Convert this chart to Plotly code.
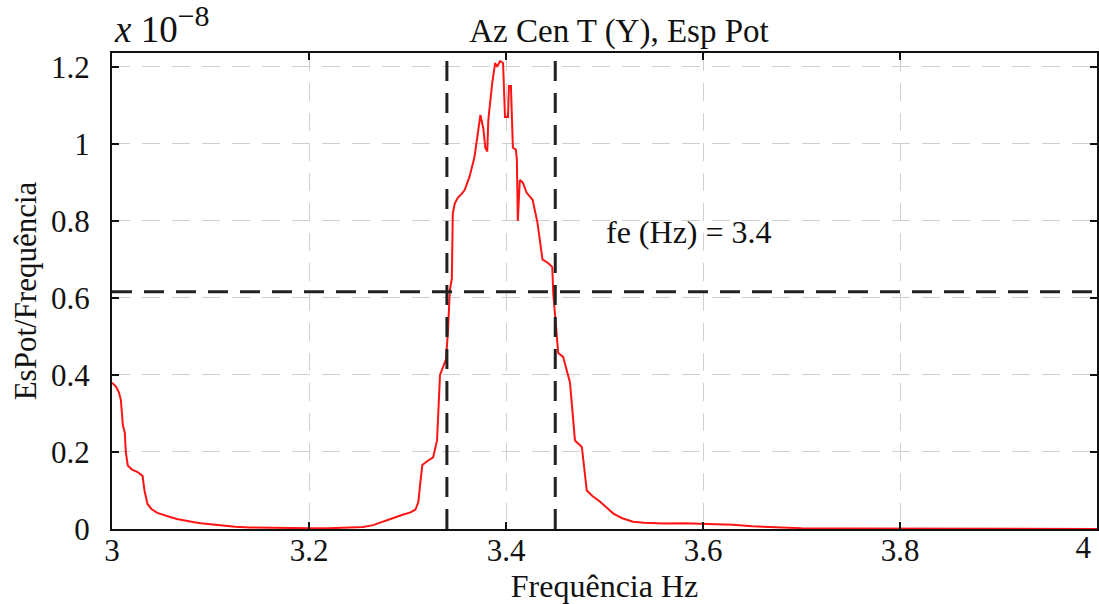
import plotly.graph_objects as go

# Power spectrum (values in units of 1e-8)
freq = [3.000, 3.004, 3.007, 3.009, 3.011, 3.013, 3.014, 3.016, 3.020, 3.026,
        3.031, 3.033, 3.036, 3.040, 3.046, 3.052, 3.059, 3.066, 3.074, 3.082,
        3.090, 3.100, 3.110, 3.125, 3.140, 3.160, 3.180, 3.200, 3.220, 3.240,
        3.255, 3.265, 3.275, 3.285, 3.295, 3.303, 3.308, 3.311, 3.313, 3.315,
        3.320, 3.326, 3.330, 3.333, 3.336, 3.339, 3.341, 3.343, 3.345, 3.346,
        3.348, 3.351, 3.355, 3.358, 3.363, 3.368, 3.371, 3.374, 3.377, 3.379,
        3.381, 3.382, 3.384, 3.386, 3.389, 3.391, 3.392, 3.394, 3.397, 3.398,
        3.399, 3.402, 3.403, 3.405, 3.407, 3.410, 3.411, 3.412, 3.414, 3.417,
        3.421, 3.427, 3.432, 3.437, 3.443, 3.447, 3.448, 3.450, 3.453, 3.458,
        3.465, 3.470, 3.477, 3.482, 3.488, 3.495, 3.502, 3.509, 3.518, 3.529,
        3.540, 3.560, 3.580, 3.600, 3.615, 3.630, 3.650, 3.665, 3.680, 3.700,
        3.750, 3.800, 3.900, 4.000]
espot = [0.380, 0.370, 0.355, 0.335, 0.270, 0.250, 0.200, 0.165, 0.155, 0.148,
         0.138, 0.100, 0.065, 0.052, 0.042, 0.036, 0.031, 0.026, 0.021, 0.018,
         0.015, 0.012, 0.009, 0.006, 0.004, 0.003, 0.002, 0.002, 0.002, 0.003,
         0.005, 0.010, 0.018, 0.028, 0.037, 0.043, 0.050, 0.070, 0.120, 0.166,
         0.176, 0.186, 0.230, 0.400, 0.420, 0.440, 0.510, 0.620, 0.650, 0.820,
         0.845, 0.860, 0.870, 0.880, 0.915, 0.966, 1.020, 1.075, 1.040, 0.990,
         0.980, 1.060, 1.110, 1.158, 1.210, 1.200, 1.205, 1.215, 1.210, 1.150,
         1.070, 1.070, 1.150, 1.150, 0.990, 0.985, 0.960, 0.800, 0.906, 0.900,
         0.873, 0.855, 0.795, 0.700, 0.690, 0.680, 0.610, 0.550, 0.457, 0.447,
         0.380, 0.230, 0.213, 0.100, 0.085, 0.072, 0.055, 0.040, 0.028, 0.019,
         0.016, 0.014, 0.015, 0.013, 0.013, 0.011, 0.007, 0.005, 0.003, 0.002,
         0.001, 0.001, 0.000, 0.000]

# Half-power bandwidth markers
band_freqs = [3.34, 3.45]
half_power = 0.616
fe_label = "fe (Hz) = 3.4"
fe_pos = [3.586, 0.771]

x_tickvals = [3.0, 3.2, 3.4, 3.6, 3.8, 4.0]
x_ticktext = ["3", "3.2", "3.4", "3.6", "3.8", ""]
x_end_tick = [4.0]
x_end_text = ["4"]
y_tickvals = [0, 0.2, 0.4, 0.6, 0.8, 1.0, 1.2]
y_ticktext = ["0", "0.2", "0.4", "0.6", "0.8", "1", "1.2"]

FONT = "Liberation Serif"
INK = "#111111"

fig = go.Figure()
fig.add_trace(go.Scatter(x=freq, y=espot, mode="lines",
                         line=dict(color="#ff1414", width=2),
                         showlegend=False, hoverinfo="skip"))
# invisible helper trace so the end-label axis is laid out
fig.add_trace(go.Scatter(x=x_end_tick, y=[0], xaxis="x2", mode="markers",
                         marker=dict(size=1, opacity=0), showlegend=False,
                         hoverinfo="skip"))

for f in band_freqs:
    fig.add_shape(type="line", xref="x", yref="y domain", x0=f, x1=f, y0=0, y1=1,
                  line=dict(color="#222222", width=3, dash="20px,12px"), layer="above")
fig.add_shape(type="line", xref="x domain", yref="y", x0=0, x1=1,
              y0=half_power, y1=half_power,
              line=dict(color="#222222", width=3, dash="20px,12px"), layer="above")

fig.add_annotation(x=fe_pos[0], y=fe_pos[1], xref="x", yref="y", text=fe_label,
                   showarrow=False, font=dict(family=FONT, size=32, color=INK))
fig.add_annotation(x=0, y=1, xref="paper", yref="paper", xanchor="left", yanchor="bottom",
                   yshift=1,
                   text="<i>x</i> 10<sup><span style='font-size:30px'>\u22128</span></sup>",
                   showarrow=False, font=dict(family=FONT, size=37, color=INK))

axis_common = dict(showline=True, linecolor=INK, linewidth=2, mirror="ticks",
                   ticks="inside", ticklen=7, tickwidth=2, tickcolor=INK,
                   showgrid=True, gridcolor="#cfcfcf", gridwidth=1.2,
                   griddash="18px,12px", zeroline=False, automargin=False,
                   tickfont=dict(family=FONT, size=31, color=INK))

fig.update_layout(
    width=1099, height=604,
    margin=dict(l=112, r=2, t=53, b=75),
    paper_bgcolor="white", plot_bgcolor="white",
    font=dict(family=FONT, size=31, color=INK),
    title=dict(text="Az Cen T (Y), Esp Pot", x=619 / 1099, xref="container",
               xanchor="center", y=1 - 30 / 604, yref="container", yanchor="middle",
               font=dict(family=FONT, size=33, color=INK)),
    xaxis=dict(range=[3, 4], tickvals=x_tickvals, ticktext=x_ticktext,
               ticklabelstandoff=-7,
               title=dict(text="Frequência Hz", standoff=0,
                          font=dict(family=FONT, size=32, color=INK)),
               **axis_common),
    xaxis2=dict(range=[3, 4], overlaying="x", side="bottom", matches="x",
                tickvals=x_end_tick, ticktext=x_end_text,
                ticklabelposition="outside left", ticklabelstandoff=-3,
                ticklabelshift=-6,
                ticks="", showline=False, showgrid=False, zeroline=False,
                automargin=False, tickfont=dict(family=FONT, size=31, color=INK)),
    yaxis=dict(range=[0, 1.236], tickvals=y_tickvals, ticktext=y_ticktext,
               ticklabelstandoff=14,
               title=dict(text="EsPot/Frequência", standoff=5,
                          font=dict(family=FONT, size=31, color=INK)),
               **axis_common),
)

fig.write_html("out.html")
